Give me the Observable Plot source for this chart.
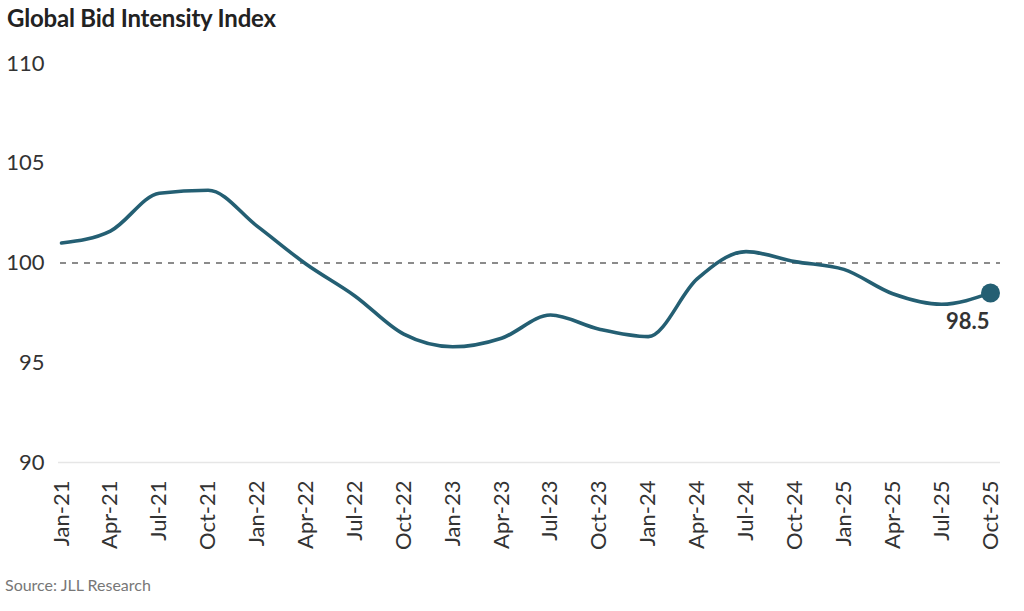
<!DOCTYPE html>
<html>
<head>
<meta charset="utf-8">
<script src="https://cdn.jsdelivr.net/npm/d3@7"></script>
<script src="https://cdn.jsdelivr.net/npm/@observablehq/plot@0.6"></script>
<style>
  html, body { margin: 0; padding: 0; background: #fff; }
  body { width: 1024px; height: 611px; overflow: hidden; font-family: Lato, "Open Sans", sans-serif; }
  #title { height: 40px; padding-left: 7px; font-size: 24px; font-weight: 700; color: #222; line-height: 36px; letter-spacing: -0.2px; }
  #caption { padding-left: 5px; font-size: 16px; color: #777; margin-top: 5px; }
</style>
</head>
<body>
<div id="title">Global Bid Intensity Index</div>
<div id="chart"></div>
<div id="caption">Source: JLL Research</div>
<script>
const quarters = ["Jan-21","Apr-21","Jul-21","Oct-21","Jan-22","Apr-22","Jul-22","Oct-22","Jan-23","Apr-23","Jul-23","Oct-23","Jan-24","Apr-24","Jul-24","Oct-24","Jan-25","Apr-25","Jul-25","Oct-25"];
const indexValues = [101.0, 101.6, 103.5, 103.65, 101.85, 99.95, 98.35, 96.43, 95.8, 96.23, 97.39, 96.68, 96.31, 99.2, 100.57, 100.07, 99.68, 98.46, 97.93, 98.5];
const yTicks = [90, 95, 100, 105, 110];
const referenceLevel = 100;
const baseLevel = 90;

const data = quarters.map((q, i) => ({quarter: q, value: indexValues[i]}));
const last = data[data.length - 1];
const color = "#245f73";

const chart = Plot.plot({
  width: 1024,
  height: 530,
  marginTop: 23,
  marginBottom: 108,
  marginLeft: 60,
  marginRight: 24,
  style: {fontFamily: "Lato, 'Open Sans', sans-serif", fontSize: "22px", color: "#333", background: "#fff"},
  x: {type: "point", domain: quarters, padding: 0, round: false, insetLeft: 1, insetRight: 10},
  y: {domain: [90, 110]},
  marks: [
    Plot.ruleY([baseLevel], {stroke: "#e6e6e6", strokeWidth: 1.5, insetLeft: -2}),
    Plot.ruleY([referenceLevel], {stroke: "#666", strokeWidth: 1.6, strokeDasharray: "6,6"}),
    Plot.axisY({ticks: yTicks, tickSize: 0, tickPadding: 16, fontSize: 22, fill: "#333", label: null}),
    Plot.axisX({tickRotate: -90, tickSize: 0, tickPadding: 18, fontSize: 22, fill: "#333", label: null}),
    Plot.line(data, {x: "quarter", y: "value", stroke: color, strokeWidth: 3.6, curve: "monotone-x"}),
    Plot.dot([last], {x: "quarter", y: "value", r: 9.5, fill: color}),
    Plot.text([last], {x: "quarter", y: "value", text: d => d.value.toFixed(1), textAnchor: "end", dx: -1, dy: 29, fontSize: 22, fontWeight: 700, fill: "#333"})
  ]
});
document.getElementById("chart").appendChild(chart);
</script>
</body>
</html>
